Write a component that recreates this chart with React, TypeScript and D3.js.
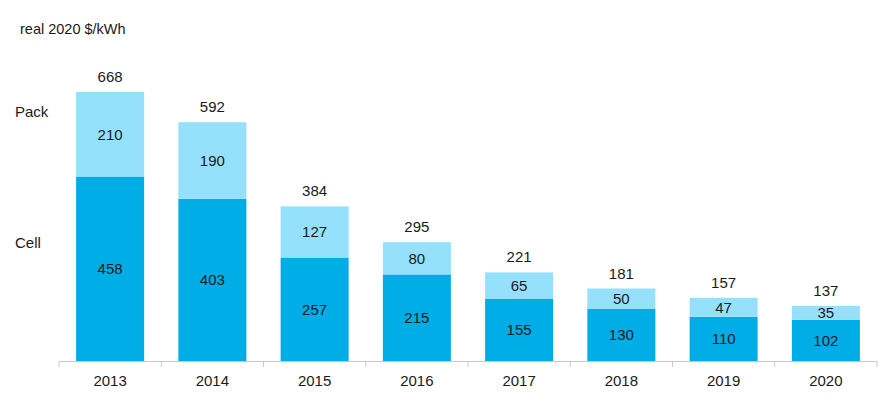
import React from "react";
import * as d3 from "d3";

const years = ["2013", "2014", "2015", "2016", "2017", "2018", "2019", "2020"];
const cell = [458, 403, 257, 215, 155, 130, 110, 102];
const pack = [210, 190, 127, 80, 65, 50, 47, 35];
const totals = [668, 592, 384, 295, 221, 181, 157, 137];

const W = 885;
const H = 420;
const margin = { left: 59, right: 8, top: 92, bottom: 59 };
const baseY = H - margin.bottom; // 361

const LIGHT = "#95e1fb";
const DARK = "#00ade6";
const TEXT = "#1a1a1a";
const FONT = "'Liberation Sans', Arial, sans-serif";
const FS = 15;

export default function App() {
  const x = d3
    .scaleBand<string>()
    .domain(years)
    .range([margin.left, W - margin.right])
    .paddingInner(0.335)
    .paddingOuter(0.1675);
  const y = d3.scaleLinear().domain([0, 668]).range([baseY, margin.top]);
  const step = x.step();
  const boundaries = d3.range(years.length + 1).map((i) => margin.left + i * step);

  return (
    <svg
      width={W}
      height={H}
      style={{ position: "absolute", left: 0, top: 0, background: "#fff" }}
      fontFamily={FONT}
    >
      <text x={20} y={34} fontSize={14.5} fill={TEXT}>
        real 2020 $/kWh
      </text>
      <text x={15} y={117} fontSize={FS} fill={TEXT}>
        Pack
      </text>
      <text x={15} y={248} fontSize={FS} fill={TEXT}>
        Cell
      </text>
      {years.map((yr, i) => {
        const bx = x(yr)!;
        const bw = x.bandwidth();
        const cx = bx + bw / 2;
        const yCell = y(cell[i]);
        const yTot = y(cell[i] + pack[i]);
        return (
          <g key={yr}>
            <rect x={bx} y={yCell} width={bw} height={baseY - yCell} fill={DARK} />
            <rect x={bx} y={yTot} width={bw} height={yCell - yTot} fill={LIGHT} />
            <text x={cx} y={(yCell + baseY) / 2} dy="0.36em" textAnchor="middle" fontSize={FS} fill={TEXT}>
              {cell[i]}
            </text>
            <text x={cx} y={(yTot + yCell) / 2} dy="0.36em" textAnchor="middle" fontSize={FS} fill={TEXT}>
              {pack[i]}
            </text>
            <text x={cx} y={yTot - 10} textAnchor="middle" fontSize={FS} fill={TEXT}>
              {totals[i]}
            </text>
            <text x={cx} y={386} textAnchor="middle" fontSize={FS} fill={TEXT}>
              {yr}
            </text>
          </g>
        );
      })}
      <line x1={margin.left} x2={W - margin.right} y1={baseY + 0.5} y2={baseY + 0.5} stroke="#c8c8c8" />
      {boundaries.map((bx, i) => (
        <line key={i} x1={bx} x2={bx} y1={baseY} y2={baseY + 6} stroke="#c8c8c8" />
      ))}
    </svg>
  );
}
